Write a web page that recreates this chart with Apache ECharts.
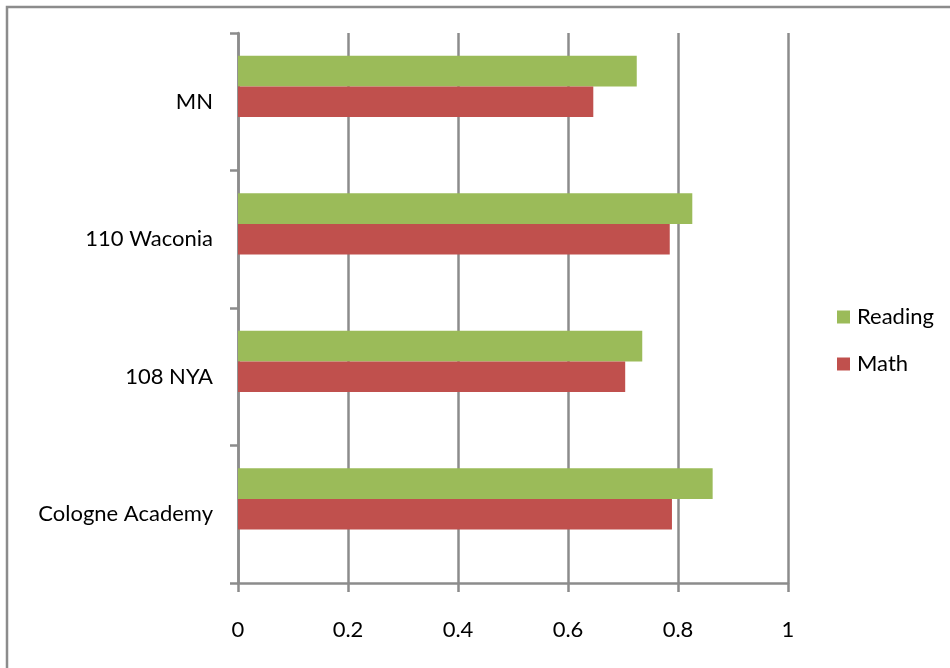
<!DOCTYPE html>
<html>
<head>
<meta charset="utf-8">
<script src="https://cdn.jsdelivr.net/npm/echarts@6/dist/echarts.min.js"></script>
<style>
html,body{margin:0;padding:0;background:#fff;}
#chart{width:950px;height:668px;}
</style>
</head>
<body>
<div id="chart"></div>
<script>
// Data (categories listed bottom to top, as on the value axis)
const categories = ['Cologne Academy', '108 NYA', '110 Waconia', 'MN'];
const readingValues = [0.863, 0.735, 0.826, 0.725];
const mathValues = [0.789, 0.704, 0.785, 0.646];
const emptyValues = [null, null, null, null];
const xTickLabels = ['0', '0.2', '0.4', '0.6', '0.8', '1'];

const FONT = 'Lato';
const FS = 22;
const axisGray = '#8c8c8c';

const chart = echarts.init(document.getElementById('chart'), null, {renderer: 'canvas'});
chart.setOption({
  animation: false,
  backgroundColor: '#ffffff',
  textStyle: {fontFamily: FONT},
  graphic: [{
    type: 'rect',
    shape: {x: 7, y: 7, width: 1200, height: 1200},
    style: {fill: 'none', stroke: axisGray, lineWidth: 2.5},
    silent: true
  }],
  grid: {left: 238, right: 162, top: 33, bottom: 85, containLabel: false},
  legend: {
    orient: 'vertical',
    left: 832,
    top: 301,
    itemWidth: 13,
    itemHeight: 13,
    itemGap: 25,
    icon: 'rect',
    data: ['Reading', 'Math'],
    textStyle: {fontFamily: FONT, fontSize: FS, color: '#000', padding: [0, 0, 0, 2]}
  },
  xAxis: {
    type: 'value',
    min: 0,
    max: 1,
    interval: 0.2,
    axisLine: {show: true, lineStyle: {color: axisGray, width: 2.5}},
    axisTick: {show: true, length: 9, lineStyle: {color: axisGray, width: 2.5}},
    splitLine: {show: true, lineStyle: {color: axisGray, width: 2.5}},
    axisLabel: {
      margin: 36,
      color: '#000',
      fontFamily: FONT,
      fontSize: FS,
      formatter: function (v) {
        const i = Math.round(v / 0.2);
        return xTickLabels[i] !== undefined ? xTickLabels[i] : '';
      }
    }
  },
  yAxis: {
    type: 'category',
    data: categories,
    axisLine: {show: true, lineStyle: {color: axisGray, width: 2.5}},
    axisTick: {show: true, length: 8, lineStyle: {color: axisGray, width: 2.5}},
    axisLabel: {margin: 25, color: '#000', fontFamily: FONT, fontSize: FS, padding: [6, 0, 0, 0]}
  },
  series: [
    {name: 'Reading', type: 'bar', data: readingValues, itemStyle: {color: '#9BBB59'}, barGap: '0%', barCategoryGap: '33%'},
    {name: 'Math', type: 'bar', data: mathValues, itemStyle: {color: '#C0504D'}, barGap: '0%', barCategoryGap: '33%'},
    {name: '', type: 'bar', data: emptyValues, barGap: '0%', barCategoryGap: '33%'}
  ]
});
</script>
</body>
</html>
